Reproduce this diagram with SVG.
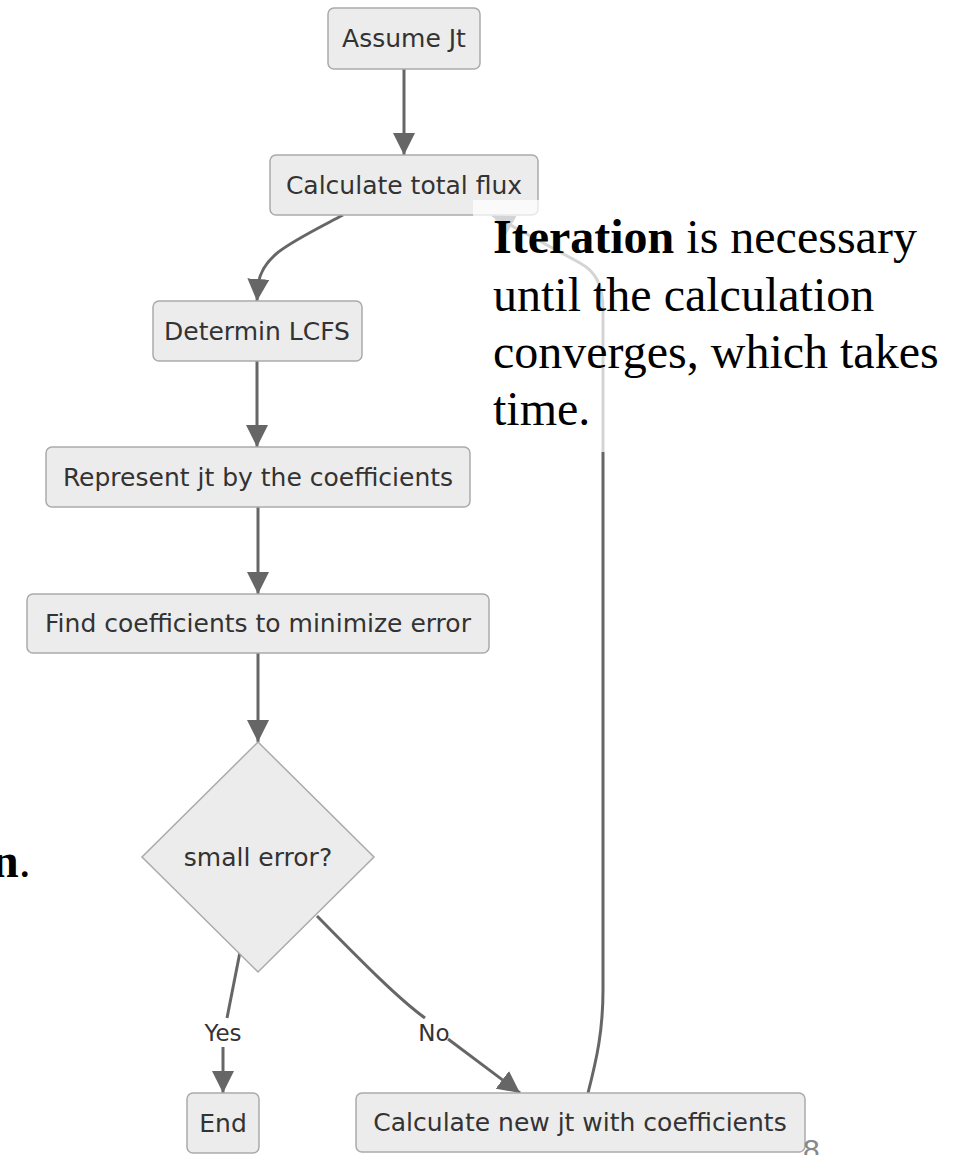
<svg xmlns="http://www.w3.org/2000/svg" width="966" height="1155" viewBox="0 0 966 1155">
<defs>
<marker id="arr" viewBox="0 0 10 10" refX="10" refY="5" markerWidth="22" markerHeight="22" markerUnits="userSpaceOnUse" orient="auto">
<path d="M0,0 L10,5 L0,10 z" fill="#666"/>
</marker>
<style>
.box{fill:#ececec;stroke:#aaa;stroke-width:1.5}
.lbl{font-family:"DejaVu Sans",Verdana,sans-serif;font-size:25px;fill:#333;text-anchor:middle}
.elbl{font-family:"DejaVu Sans",Verdana,sans-serif;font-size:23px;fill:#333;text-anchor:middle}
.edge{fill:none;stroke:#666;stroke-width:3}
.note{font-family:"Liberation Serif","Times New Roman",serif;font-size:48px;fill:#000}
</style>
</defs>
<rect width="966" height="1155" fill="#fff"/>
<g id="connectors">
<path class="edge" d="M404,69 L404,155" marker-end="url(#arr)"/>
<path class="edge" d="M343,215 C290,243 262,255 258,285 L257,301" marker-end="url(#arr)"/>
<path class="edge" d="M257,361 L257,447" marker-end="url(#arr)"/>
<path class="edge" d="M258,507 L258,594" marker-end="url(#arr)"/>
<path class="edge" d="M258,653 L258,742" marker-end="url(#arr)"/>
<path class="edge" d="M240,952 L227,1018"/>
<path class="edge" d="M223,1047 L223,1093" marker-end="url(#arr)"/>
<path class="edge" d="M317,916 C365,965 400,1000 425,1018"/>
<path class="edge" d="M448,1039 L520,1093" marker-end="url(#arr)"/>
<path class="edge" d="M588,1093 C597,1058 603,1030 603,990 L603,310 C603,285 596,272 580,263 L492,215" marker-end="url(#arr)"/>
<text class="elbl" x="223" y="1041">Yes</text>
<text class="elbl" x="434" y="1041">No</text>
</g>
<g id="n1"><rect class="box" x="328" y="8" width="152" height="61" rx="6"/><text class="lbl" x="404" y="47">Assume Jt</text></g>
<g id="n2"><rect class="box" x="270" y="155" width="268" height="60" rx="6"/><text class="lbl" x="404" y="194">Calculate total flux</text></g>
<g id="n3"><rect class="box" x="153" y="301" width="209" height="60" rx="6"/><text class="lbl" x="257" y="340">Determin LCFS</text></g>
<g id="n4"><rect class="box" x="46" y="447" width="424" height="60" rx="6"/><text class="lbl" x="258" y="486">Represent jt by the coefficients</text></g>
<g id="n5"><rect class="box" x="27" y="594" width="462" height="59" rx="6"/><text class="lbl" x="258" y="632">Find coefficients to minimize error</text></g>
<g id="n6"><polygon class="box" points="258,742 374,857 258,972 142,857"/><text class="lbl" x="258" y="866">small error?</text></g>
<g id="n7"><rect class="box" x="187" y="1093" width="72" height="60" rx="6"/><text class="lbl" x="223" y="1132">End</text></g>
<g id="n8"><rect class="box" x="356" y="1093" width="449" height="59" rx="6"/><text class="lbl" x="580" y="1131">Calculate new jt with coefficients</text></g>
<rect id="note-bg" x="473" y="200" width="472" height="252" fill="#fff" fill-opacity="0.72"/>
<g id="note">
<text class="note" x="493" y="253"><tspan font-weight="bold">Iteration</tspan> is necessary</text>
<text class="note" x="493" y="310.5">until the calculation</text>
<text class="note" x="493" y="368">converges, which takes</text>
<text class="note" x="493" y="425">time.</text>
</g>
<text class="note" x="-8" y="877"><tspan font-weight="bold">n</tspan>.</text>
<text x="803" y="1160" font-family="Liberation Sans, Arial, sans-serif" font-size="30" fill="#888">8</text>
</svg>
